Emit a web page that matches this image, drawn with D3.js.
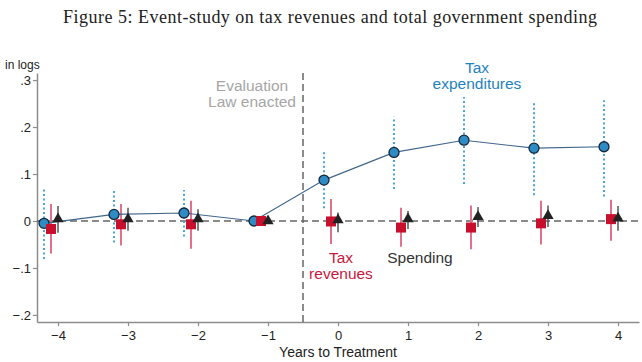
<!DOCTYPE html>
<html>
<head>
<meta charset="utf-8">
<script src="https://cdn.jsdelivr.net/npm/d3@7"></script>
<style>
  body { margin: 0; background: #fff; }
  text { font-family: "Liberation Sans", Arial, sans-serif; }
</style>
</head>
<body>
<script>
// event-study coefficients (t = -1 is the reference year)
var years = [-4, -3, -2, -1, 0, 1, 2, 3, 4];

var taxExp   = [-0.005, 0.014, 0.017, 0, 0.087, 0.146, 0.172, 0.155, 0.158];
var taxExpLo = [-0.081, -0.046, -0.033, null, 0.027, 0.068, 0.079, 0.055, 0.052];
var taxExpHi = [0.072, 0.067, 0.066, null, 0.147, 0.222, 0.264, 0.252, 0.257];

var taxRev   = [-0.017, -0.007, -0.007, 0, -0.001, -0.014, -0.014, -0.005, 0.004];
var taxRevLo = [-0.069, -0.052, -0.059, null, -0.049, -0.055, -0.060, -0.050, -0.042];
var taxRevHi = [0.036, 0.036, 0.043, null, 0.047, 0.028, 0.033, 0.043, 0.045];

var spend   = [0.004, 0.004, 0.004, 0, 0.002, 0.004, 0.009, 0.011, 0.006];
var spendLo = [-0.025, -0.021, -0.021, null, -0.024, -0.017, -0.013, -0.013, -0.021];
var spendHi = [0.032, 0.028, 0.025, null, 0.018, 0.021, 0.030, 0.033, 0.032];

var yTicks = [-0.2, -0.1, 0, 0.1, 0.2, 0.3];
var xTicks = [-4, -3, -2, -1, 0, 1, 2, 3, 4];
var treatLine = -0.5;

var svg = d3.select("body").append("svg")
	.attr("width", 642)
	.attr("height", 362);

var x = d3.scaleLinear().domain([-4.3, 4.3]).range([37, 639]);
var y = d3.scaleLinear().domain([-0.215, 0.315]).range([322, 73]);

// title
svg.append("text")
	.attr("x", 330).attr("y", 23)
	.attr("text-anchor", "middle")
	.attr("textLength", 534)
	.attr("lengthAdjust", "spacing")
	.style("font-family", "'Liberation Serif', 'DejaVu Serif', serif")
	.style("font-size", "18px")
	.attr("fill", "#222")
	.text("Figure 5: Event-study on tax revenues and total government spending");

svg.append("text")
	.attr("x", 5).attr("y", 69)
	.style("font-size", "12px")
	.attr("fill", "#222")
	.text("in logs");

// axes
var fmt = function(d) {
	if (d === 0) return "0";
	return d3.format(".1f")(d).replace("0.", ".");
};

var yAxis = svg.append("g")
	.attr("transform", "translate(" + x(-4.3) + ",0)")
	.call(d3.axisLeft(y).tickValues(yTicks).tickFormat(fmt).tickSize(4).tickSizeOuter(0));

var xAxis = svg.append("g")
	.attr("transform", "translate(0," + y(-0.215) + ")")
	.call(d3.axisBottom(x).tickValues(xTicks).tickSize(4).tickSizeOuter(0));

[yAxis, xAxis].forEach(function(a) {
	a.select(".domain").attr("stroke", "#8c8c8c").attr("stroke-width", 1.5);
	a.selectAll(".tick line").attr("stroke", "#8c8c8c").attr("stroke-width", 1.2);
	a.selectAll(".tick text").attr("fill", "#222").style("font-size", "13px")
		.style("font-family", "'Liberation Sans', Arial, sans-serif");
});
yAxis.selectAll(".tick text").attr("x", -6);
xAxis.selectAll(".tick text").attr("y", 9);

svg.append("text")
	.attr("x", x(0)).attr("y", 357)
	.attr("text-anchor", "middle")
	.style("font-size", "14px")
	.attr("fill", "#222")
	.text("Years to Treatment");

// reference lines
svg.append("line")
	.attr("x1", x(-4.3)).attr("x2", x(4.3))
	.attr("y1", y(0)).attr("y2", y(0))
	.attr("stroke", "#666").attr("stroke-width", 1.5)
	.attr("stroke-dasharray", "7,4");

svg.append("line")
	.attr("x1", x(treatLine)).attr("x2", x(treatLine))
	.attr("y1", y(0.315)).attr("y2", y(-0.215))
	.attr("stroke", "#666").attr("stroke-width", 1.5)
	.attr("stroke-dasharray", "7,4");

// series
var series = [
	{ name: "exp", off: -0.2, est: taxExp, lo: taxExpLo, hi: taxExpHi },
	{ name: "rev", off: -0.1, est: taxRev, lo: taxRevLo, hi: taxRevHi },
	{ name: "spend", off: 0, est: spend, lo: spendLo, hi: spendHi }
];

function rows(s) {
	return years.map(function(t, i) {
		return { t: t + s.off, est: s.est[i], lo: s.lo[i], hi: s.hi[i] };
	});
}

var ciStyle = {
	exp: { color: "#4aa8dc", width: 2, dash: "2,2.5" },
	rev: { color: "#e2728c", width: 2, dash: null },
	spend: { color: "#555", width: 1.5, dash: null }
};

series.forEach(function(s) {
	var st = ciStyle[s.name];
	svg.append("g").selectAll("line")
		.data(rows(s).filter(function(d) { return d.lo !== null; }))
		.enter().append("line")
		.attr("x1", function(d) { return x(d.t); })
		.attr("x2", function(d) { return x(d.t); })
		.attr("y1", function(d) { return y(d.lo); })
		.attr("y2", function(d) { return y(d.hi); })
		.attr("stroke", st.color)
		.attr("stroke-width", st.width)
		.attr("stroke-dasharray", st.dash);
});

// tax expenditures line + circles
var expRows = rows(series[0]);
svg.append("path")
	.datum(expRows)
	.attr("fill", "none")
	.attr("stroke", "#41668c")
	.attr("stroke-width", 1.1)
	.attr("d", d3.line().x(function(d) { return x(d.t); }).y(function(d) { return y(d.est); }));

svg.append("g").selectAll("circle")
	.data(expRows)
	.enter().append("circle")
	.attr("cx", function(d) { return x(d.t); })
	.attr("cy", function(d) { return y(d.est); })
	.attr("r", 5)
	.attr("fill", "#2e8bc4")
	.attr("stroke", "#15283c")
	.attr("stroke-width", 1.3);

// tax revenues squares
svg.append("g").selectAll("rect")
	.data(rows(series[1]))
	.enter().append("rect")
	.attr("x", function(d) { return x(d.t) - 5; })
	.attr("y", function(d) { return y(d.est) - 5; })
	.attr("width", 10).attr("height", 10)
	.attr("fill", "#c8102e");

// spending triangles
svg.append("g").selectAll("path")
	.data(rows(series[2]))
	.enter().append("path")
	.attr("transform", function(d) { return "translate(" + x(d.t) + "," + y(d.est) + ")"; })
	.attr("d", d3.symbol().type(d3.symbolTriangle).size(55))
	.attr("fill", "#222");

// labels
function label(lines, cx, by, color, anchor) {
	var t = svg.append("text")
		.attr("text-anchor", anchor || "middle")
		.style("font-size", "15.5px")
		.attr("fill", color);
	lines.forEach(function(l, i) {
		t.append("tspan").attr("x", cx).attr("y", by + i * 16).text(l);
	});
}
label(["Evaluation", "Law enacted"], 252, 91, "#a6a6a6");
label(["Tax", "expenditures"], 477, 73, "#1f82c0");
label(["Tax", "revenues"], 341, 263, "#c8183e");
label(["Spending"], 420, 263, "#333");
</script>
</body>
</html>
